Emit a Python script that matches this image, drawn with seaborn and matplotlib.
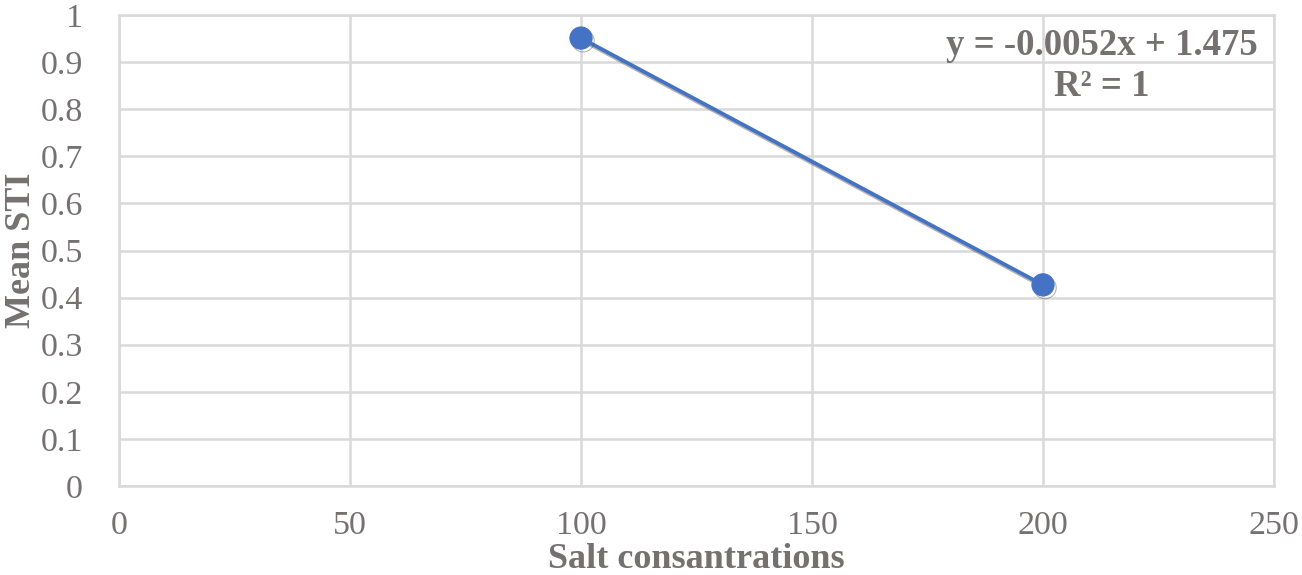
import matplotlib
matplotlib.use("Agg")
import matplotlib.pyplot as plt
import matplotlib.patheffects as pe
import seaborn as sns
import pandas as pd

salt = [100, 200]
mean_sti = [0.951, 0.427]
x_ticks = [0, 50, 100, 150, 200, 250]
y_ticks = [0, 0.1, 0.2, 0.3, 0.4, 0.5, 0.6, 0.7, 0.8, 0.9, 1]
y_tick_labels = ["0", "0.1", "0.2", "0.3", "0.4", "0.5", "0.6", "0.7", "0.8", "0.9", "1"]
equation = "y = -0.0052x + 1.475\nR² = 1"

sns.set_theme(style="white")
plt.rcParams['font.family'] = ['Liberation Serif', 'DejaVu Serif']

df = pd.DataFrame({"Salt": salt, "STI": mean_sti})

fig = plt.figure(figsize=(13.02, 5.75), dpi=100)
ax = fig.add_axes([119/1302, 1-486/575, (1274-119)/1302, (486-15)/575])

blue = "#4472C4"
grey = "#767171"
gridc = "#D9D9D9"

sns.lineplot(data=df, x="Salt", y="STI", ax=ax, color=blue, linewidth=2.7,
             marker="o", markersize=16, markeredgecolor=blue, markerfacecolor=blue,
             path_effects=[pe.SimpleLineShadow(offset=(1.5, -2), shadow_color="#555555", alpha=0.45),
                           pe.Normal()])

ax.set_xlim(0, 250)
ax.set_ylim(0, 1)
ax.set_xticks(x_ticks)
ax.set_xticklabels([str(v) for v in x_ticks])
ax.set_yticks(y_ticks)
ax.set_yticklabels(y_tick_labels)
ax.grid(True, color=gridc, linewidth=1.8)
ax.set_axisbelow(True)
for s in ax.spines.values():
    s.set_color(gridc)
    s.set_linewidth(1.8)
ax.tick_params(axis='both', length=0, labelsize=24.5, labelcolor=grey)
ax.tick_params(axis='x', pad=18)
ax.tick_params(axis='y', pad=26)

ax.set_xlabel("Salt consantrations", fontsize=26, fontweight="bold", color=grey, labelpad=1)
ax.set_ylabel("Mean STI", fontsize=26, fontweight="bold", color=grey, labelpad=2)

ax.text(1102/1302, 1-66/575, equation, transform=fig.transFigure, ha="center", va="center",
        fontsize=26.5, fontweight="bold", color=grey, linespacing=1.25)

fig.savefig("out.png", dpi=100, facecolor="white")
